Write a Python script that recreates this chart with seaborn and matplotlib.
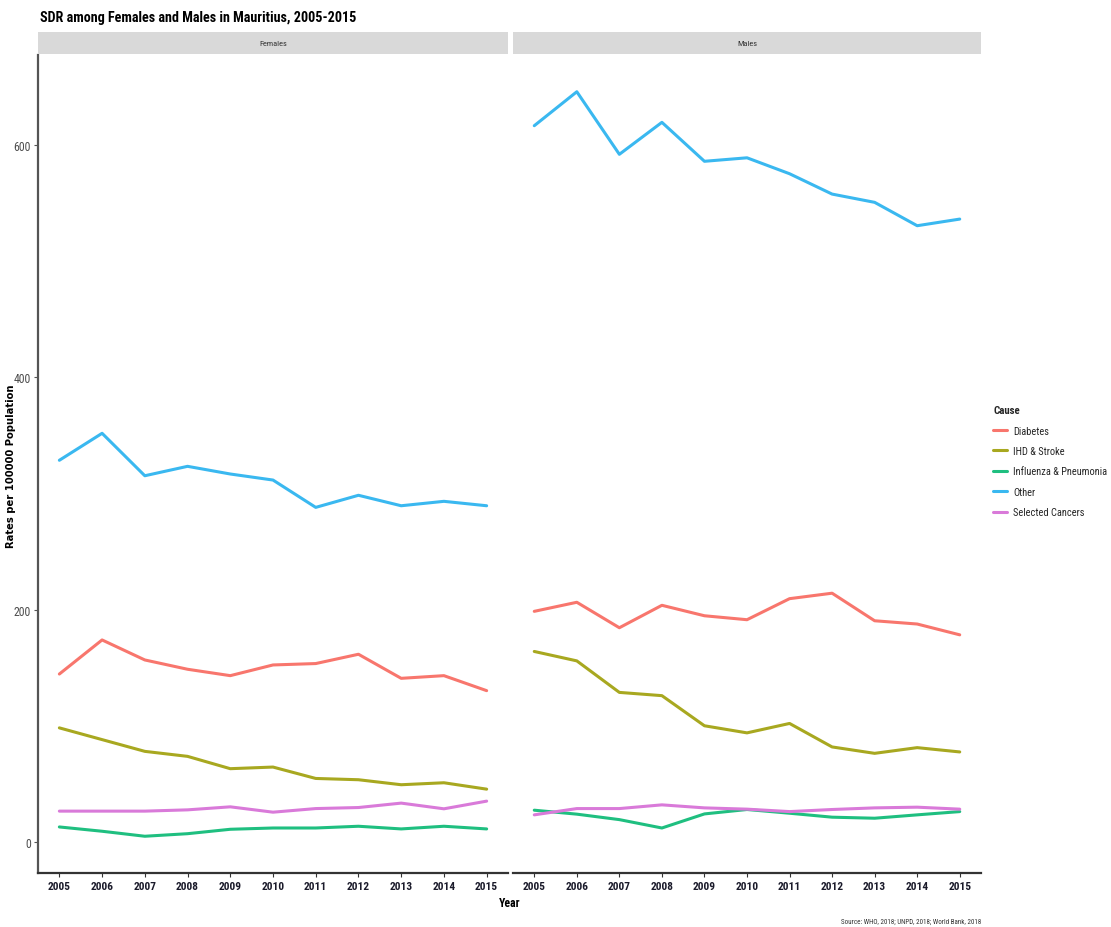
import numpy as np
import pandas as pd
import matplotlib
matplotlib.use("Agg")
import matplotlib.pyplot as plt
from matplotlib.lines import Line2D
import seaborn as sns
import logging
logging.getLogger("matplotlib.font_manager").setLevel(logging.ERROR)

years = list(range(2005, 2016))
causes = ["Diabetes", "IHD & Stroke", "Influenza & Pneumonia", "Other", "Selected Cancers"]
colors = ["#F8766D", "#A8A820", "#1FBF80", "#3AB8F0", "#D97AD9"]

female_diabetes = [144.7, 174.0, 156.8, 148.8, 143.3, 152.5, 153.7, 161.7, 141.0, 143.3, 130.4]
female_ihd = [98.4, 88.3, 78.2, 73.9, 63.3, 64.7, 54.9, 53.8, 49.5, 51.2, 45.7]
female_flu = [13.2, 9.5, 5.2, 7.4, 11.2, 12.3, 12.3, 13.8, 11.5, 13.8, 11.5]
female_other = [328.5, 351.7, 315.2, 323.3, 316.7, 311.5, 288.0, 298.4, 289.4, 293.2, 289.4]
female_cancers = [26.8, 26.8, 26.8, 27.9, 30.5, 25.9, 29.0, 29.9, 33.7, 28.8, 35.4]

male_diabetes = [198.6, 206.4, 184.5, 203.8, 194.8, 191.4, 209.5, 214.2, 190.5, 187.7, 178.4]
male_ihd = [164.1, 156.0, 128.9, 126.1, 100.2, 94.1, 102.2, 82.0, 76.5, 81.4, 77.7]
male_flu = [27.6, 24.2, 19.5, 12.3, 24.4, 28.2, 25.0, 21.6, 20.7, 23.6, 26.4]
male_other = [616.2, 645.4, 591.6, 619.1, 585.6, 588.6, 574.9, 557.4, 550.3, 530.2, 535.9]
male_cancers = [23.6, 29.0, 29.0, 32.2, 29.6, 28.5, 26.4, 28.2, 29.6, 30.2, 28.5]

sexes = ["Females", "Males"]
yticks = [0, 200, 400, 600]

series = {
    "Females": [female_diabetes, female_ihd, female_flu, female_other, female_cancers],
    "Males": [male_diabetes, male_ihd, male_flu, male_other, male_cancers],
}
rows = []
for sex in sexes:
    for cause, vals in zip(causes, series[sex]):
        for yr, v in zip(years, vals):
            rows.append({"Sex": sex, "Cause": cause, "Year": yr, "Rate": v})
df = pd.DataFrame(rows)

sns.set_theme(style="white")
narrow = ["Roboto Condensed", "Liberation Sans Narrow", "Liberation Sans", "DejaVu Sans"]
plt.rcParams["font.family"] = narrow

W, H = 1111, 928
fig = plt.figure(figsize=(W / 100, H / 100), dpi=100)

def fx(px):
    return px / W

def fy(py):
    return 1 - py / H

panel_x = [(38, 508), (513, 981)]
top_px, bot_px = 56, 874
strip_top = 33

palette = dict(zip(causes, colors))
axes = []
for i, sex in enumerate(sexes):
    x0, x1 = panel_x[i]
    ax = fig.add_axes([fx(x0), fy(bot_px), fx(x1 - x0), (bot_px - top_px) / H])
    sub = df[df["Sex"] == sex]
    sns.lineplot(data=sub, x="Year", y="Rate", hue="Cause", hue_order=causes,
                 palette=palette, linewidth=2.2, legend=False, ax=ax)
    ax.set_xlim(2004.5, 2015.5)
    ax.set_ylim(-26.4, 677)
    ax.set_xticks(years)
    ax.set_xticklabels([str(y) for y in years], fontsize=8.2, fontweight="bold",
                       color="#1a1a2a")
    ax.set_xlabel("")
    ax.set_ylabel("")
    for s in ["top", "right"]:
        ax.spines[s].set_visible(False)
    ax.spines["bottom"].set_color("#333333")
    ax.spines["bottom"].set_linewidth(1.6)
    ax.tick_params(axis="x", length=3, width=0.8, color="#333333", pad=3, bottom=True)
    if i == 0:
        ax.spines["left"].set_color("#555555")
        ax.spines["left"].set_linewidth(1.6)
        ax.set_yticks(yticks)
        ax.set_yticklabels([str(t) for t in yticks], fontsize=8.5, color="#4D4D4D")
        ax.tick_params(axis="y", length=3, width=0.8, color="#555555", pad=2, left=True)
    else:
        ax.spines["left"].set_visible(False)
        ax.set_yticks(yticks)
        ax.set_yticklabels([])
        ax.tick_params(axis="y", length=0)
    ax.grid(False)
    ax.set_facecolor("white")
    # strip
    sax = fig.add_axes([fx(x0), fy(top_px - 1), fx(x1 - x0), (top_px - 1 - strip_top) / H])
    sax.set_facecolor("#D9D9D9")
    sax.set_xticks([])
    sax.set_yticks([])
    for s in sax.spines.values():
        s.set_visible(False)
    sax.text(0.5, 0.5, sex, ha="center", va="center", fontsize=6, color="#333333",
             transform=sax.transAxes)
    axes.append(ax)

fig.text(fx(40), fy(18), "SDR among Females and Males in Mauritius, 2005-2015",
         ha="left", va="center", fontsize=10.2, fontweight="bold", color="black")
fig.text(fx(11.5), fy(466), "Rates per 100000 Population", rotation=90,
         ha="center", va="center", fontsize=7.2, fontweight="bold",
         family=["DejaVu Sans"], color="black")
fig.text(fx(510), fy(904), "Year", ha="center", va="center", fontsize=8.5,
         fontweight="bold", color="black")
fig.text(fx(981), fy(922), "Source: WHO, 2018; UNPD, 2018; World Bank, 2018",
         ha="right", va="center", fontsize=5, color="#333333")

handles = [Line2D([0], [0], color=c, lw=2.2) for c in colors]
leg = fig.legend(handles, causes, loc="upper left",
                 bbox_to_anchor=(fx(990), fy(403)), frameon=False,
                 title="Cause", fontsize=7.5, title_fontsize=7.8,
                 handlelength=1.3, handletextpad=0.6, labelspacing=1.0,
                 alignment="left", borderaxespad=0, borderpad=0.3)
leg.get_title().set_fontweight("bold")

fig.savefig("out.png", dpi=100)
